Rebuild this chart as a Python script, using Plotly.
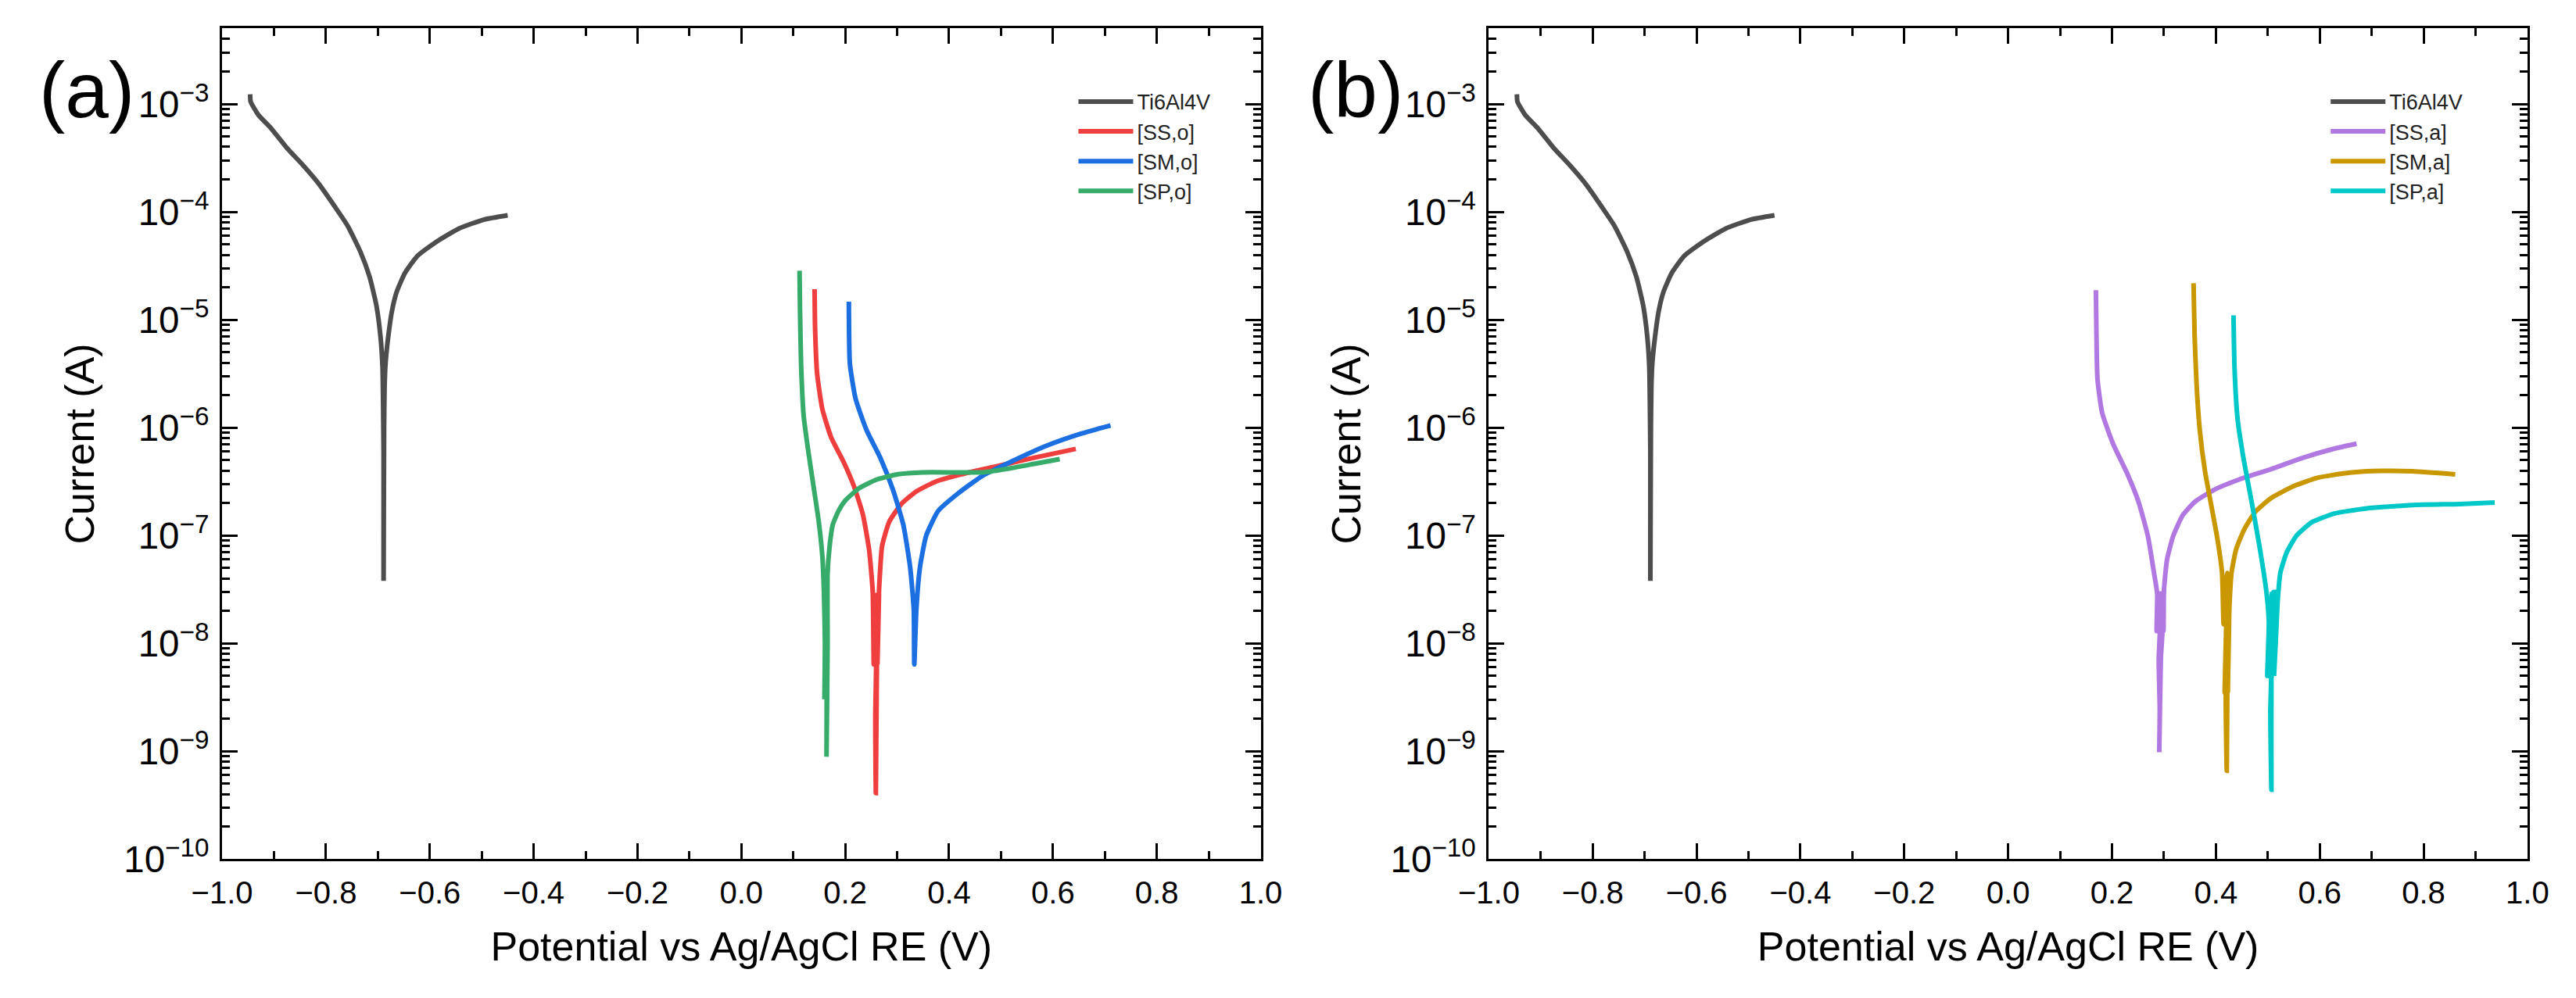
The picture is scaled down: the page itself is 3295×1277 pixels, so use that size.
import plotly.graph_objects as go

# Tafel curves: potential (V vs Ag/AgCl) and current (A)
ti_potential = [-0.946, -0.945, -0.930, -0.905, -0.875, -0.844, -0.813, -0.783, -0.758, -0.734,
                -0.716, -0.703, -0.695, -0.691, -0.690, -0.689, -0.689, -0.689,
                -0.688, -0.687, -0.685, -0.680, -0.673, -0.664, -0.648, -0.624, -0.587, -0.544, -0.495, -0.450]
ti_current = [1.23e-3, 1.05e-3, 7.9e-4, 5.9e-4, 3.9e-4, 2.7e-4, 1.8e-4, 1.12e-4, 7.4e-5, 4.3e-5,
              2.5e-5, 1.37e-5, 7.0e-6, 3.6e-6, 1.8e-6, 6.0e-7, 1.5e-7, 3.8e-8,
              1.0e-6, 2.5e-6, 4.1e-6, 7.0e-6, 1.2e-5, 1.8e-5, 2.7e-5, 3.9e-5, 5.3e-5, 7.0e-5, 8.5e-5, 9.3e-5]

ss_o_potential = [0.141, 0.142, 0.146, 0.156, 0.173, 0.197, 0.217, 0.234, 0.246, 0.253,
                  0.255, 0.259, 0.257, 0.262, 0.258, 0.259, 0.261, 0.264, 0.262, 0.265,
                  0.265, 0.271, 0.285, 0.308, 0.336, 0.376, 0.424, 0.484, 0.559, 0.644]
ss_o_current = [1.92e-5, 8.3e-6, 3.13e-6, 1.48e-6, 8.1e-7, 4.8e-7, 2.85e-7, 1.57e-7, 7.4e-8, 3.0e-8,
                6.4e-9, 2.8e-8, 6.4e-9, 2.8e-8, 2.2e-9, 4.1e-10, 6.4e-9, 2.8e-8, 6.4e-9, 2.8e-8,
                3.0e-8, 8.0e-8, 1.35e-7, 1.96e-7, 2.55e-7, 3.19e-7, 3.7e-7, 4.3e-7, 5.2e-7, 6.35e-7]

sm_o_potential = [0.207, 0.209, 0.220, 0.241, 0.268, 0.292, 0.312, 0.325, 0.332, 0.333,
                  0.337, 0.344, 0.356, 0.379, 0.417, 0.464, 0.518, 0.586, 0.654, 0.711]
sm_o_current = [1.47e-5, 3.9e-6, 1.85e-6, 9.5e-7, 5.2e-7, 2.65e-7, 1.25e-7, 5.1e-8, 2.07e-8, 6.4e-9,
                2.07e-8, 5.1e-8, 1.0e-7, 1.69e-7, 2.45e-7, 3.57e-7, 4.8e-7, 6.75e-7, 8.8e-7, 1.05e-6]

sp_o_potential = [0.112, 0.113, 0.115, 0.120, 0.129, 0.139, 0.149, 0.156, 0.159, 0.161,
                  0.160, 0.164, 0.162, 0.165, 0.164, 0.166, 0.166,
                  0.170, 0.176, 0.187, 0.200, 0.227, 0.261, 0.302, 0.349, 0.410, 0.464, 0.518, 0.572, 0.613]
sp_o_current = [2.85e-5, 1.2e-5, 3.9e-6, 1.28e-6, 6.0e-7, 2.85e-7, 1.35e-7, 6.4e-8, 3.0e-8, 9.8e-9,
                3.2e-9, 3.0e-8, 3.2e-9, 3.0e-8, 8.9e-10, 9.8e-9, 4.4e-8,
                8.0e-8, 1.26e-7, 1.69e-7, 2.11e-7, 2.75e-7, 3.31e-7, 3.7e-7, 3.85e-7, 3.85e-7, 3.85e-7, 4.2e-7, 4.7e-7, 5.1e-7]

ss_a_potential = [0.169, 0.170, 0.172, 0.181, 0.202, 0.230, 0.251, 0.269, 0.281, 0.287,
                  0.286, 0.294, 0.288, 0.296, 0.290, 0.292, 0.291, 0.294, 0.297, 0.293, 0.299,
                  0.300, 0.306, 0.318, 0.336, 0.360, 0.397, 0.445, 0.506, 0.567, 0.627, 0.671]
ss_a_current = [1.88e-5, 7.3e-6, 2.84e-6, 1.37e-6, 7.1e-7, 3.69e-7, 2.06e-7, 9.95e-8, 4.47e-8, 2.9e-8,
                1.3e-8, 2.9e-8, 1.3e-8, 2.9e-8, 7.2e-9, 2.43e-9, 9.8e-10, 7.2e-9, 1.3e-8, 2.9e-8, 1.3e-8,
                3.1e-8, 6.0e-8, 9.95e-8, 1.54e-7, 2.06e-7, 2.66e-7, 3.31e-7, 4.12e-7, 5.24e-7, 6.37e-7, 7.1e-7]

sm_a_potential = [0.357, 0.359, 0.363, 0.369, 0.379, 0.391, 0.403, 0.412,
                  0.415, 0.422, 0.417, 0.425, 0.419, 0.421, 0.422, 0.424, 0.423, 0.427, 0.425,
                  0.426, 0.430, 0.439, 0.455, 0.476, 0.506, 0.549, 0.597, 0.658, 0.719, 0.779, 0.861]
sm_a_current = [2.18e-5, 7.3e-6, 2.45e-6, 9.5e-7, 3.97e-7, 1.92e-7, 9.3e-8, 4.47e-8,
                1.5e-8, 4.5e-8, 3.5e-9, 3.0e-8, 3.5e-9, 6.6e-10, 3.5e-9, 1.5e-8, 3.5e-9, 4.5e-8, 1.5e-8,
                2.16e-8, 4.47e-8, 7.45e-8, 1.15e-7, 1.66e-7, 2.22e-7, 2.86e-7, 3.44e-7, 3.83e-7, 3.97e-7, 3.94e-7, 3.69e-7]

sp_a_potential = [0.434, 0.436, 0.442, 0.454, 0.470, 0.485, 0.497, 0.502,
                  0.499, 0.508, 0.501, 0.511, 0.505, 0.507, 0.507, 0.513, 0.508, 0.517, 0.512, 0.519,
                  0.518, 0.524, 0.536, 0.555, 0.585, 0.628, 0.688, 0.779, 0.870, 0.937]
sp_a_current = [1.1e-5, 3.52e-6, 1.18e-6, 4.94e-7, 1.92e-7, 7.45e-8, 3.1e-8, 1.6e-8,
                5.0e-9, 3.0e-8, 5.0e-9, 3.0e-8, 2.43e-9, 4.4e-10, 5.0e-9, 3.0e-8, 5.0e-9, 3.0e-8, 5.0e-9, 2.5e-8,
                2.16e-8, 4.47e-8, 6.9e-8, 9.95e-8, 1.33e-7, 1.6e-7, 1.78e-7, 1.92e-7, 1.96e-7, 2.02e-7]

x_ticks = [-1.0, -0.8, -0.6, -0.4, -0.2, 0.0, 0.2, 0.4, 0.6, 0.8, 1.0]

FONT = "Liberation Sans, Arial, sans-serif"
W, H = 3295, 1277

panel_a = [
    ("Ti6Al4V", ti_potential, ti_current, "#4D4D4D"),
    ("[SS,o]", ss_o_potential, ss_o_current, "#EE3E3E"),
    ("[SM,o]", sm_o_potential, sm_o_current, "#1C6FE0"),
    ("[SP,o]", sp_o_potential, sp_o_current, "#37AB6A"),
]
panel_b = [
    ("Ti6Al4V", ti_potential, ti_current, "#4D4D4D"),
    ("[SS,a]", ss_a_potential, ss_a_current, "#B078E0"),
    ("[SM,a]", sm_a_potential, sm_a_current, "#C99700"),
    ("[SP,a]", sp_a_potential, sp_a_current, "#00C8C8"),
]


def add_panel(fig, series, xref, yref, legend):
    for name, x, y, color in series:
        fig.add_trace(go.Scatter(
            x=x, y=y, mode="lines", name=name,
            line=dict(color=color, width=6, shape="spline", smoothing=0.5),
            xaxis=xref, yaxis=yref, legend=legend,
        ))


def x_axis(domain, anchor):
    return dict(
        domain=domain, anchor=anchor, range=[-1.0, 1.0],
        tickvals=x_ticks, tickformat=".1f",
        ticks="inside", ticklen=20, tickwidth=3, tickcolor="black",
        minor=dict(dtick=0.1, ticks="inside", ticklen=10, tickwidth=3, tickcolor="black"),
        showline=True, linecolor="black", linewidth=3, mirror="ticks",
        showgrid=False, zeroline=False,
        tickfont=dict(family=FONT, size=40, color="black"),
        ticklabelstandoff=6,
        title=dict(text="Potential vs Ag/AgCl RE (V)", standoff=30,
                   font=dict(family=FONT, size=52, color="black")),
    )


def y_axis(anchor):
    return dict(
        domain=[1 - 1115 / H, 1 - 29 / H], anchor=anchor,
        type="log", range=[-10.0, -2.3], dtick=1, exponentformat="power",
        ticks="inside", ticklen=20, tickwidth=3, tickcolor="black",
        minor=dict(dtick="D1", ticks="inside", ticklen=10, tickwidth=3, tickcolor="black"),
        showline=True, linecolor="black", linewidth=3, mirror="ticks",
        showgrid=False, zeroline=False,
        tickfont=dict(family=FONT, size=38, color="black"),
        ticklabelstandoff=6,
        title=dict(text="Current (A)", standoff=22,
                   font=dict(family=FONT, size=52, color="black")),
    )


fig = go.Figure()
add_panel(fig, panel_a, "x", "y", "legend")
add_panel(fig, panel_b, "x2", "y2", "legend2")

legend_style = dict(font=dict(family=FONT, size=27, color="#222222"),
                    bgcolor="rgba(0,0,0,0)", itemwidth=70, tracegroupgap=0,
                    xanchor="left", yanchor="top")

fig.update_layout(
    width=W, height=H,
    margin=dict(l=0, r=0, t=0, b=0),
    paper_bgcolor="white", plot_bgcolor="white",
    font=dict(family=FONT, color="black"),
    xaxis=x_axis([242 / W, 1598 / W], "y"),
    yaxis=y_axis("x"),
    xaxis2=x_axis([1896 / W, 3252 / W], "y2"),
    yaxis2=y_axis("x2"),
    legend=dict(x=1355 / W, y=1 - 100 / H, **legend_style),
    legend2=dict(x=2990 / W, y=1 - 100 / H, **legend_style),
    annotations=[
        dict(text="(a)", x=130 / W, y=1 - 109 / H, xref="paper", yref="paper",
             xanchor="right", yanchor="middle", showarrow=False,
             font=dict(family=FONT, size=100, color="black")),
        dict(text="(b)", x=1786 / W, y=1 - 109 / H, xref="paper", yref="paper",
             xanchor="right", yanchor="middle", showarrow=False,
             font=dict(family=FONT, size=100, color="black")),
    ],
    showlegend=True,
)

fig.write_html("out.html")
